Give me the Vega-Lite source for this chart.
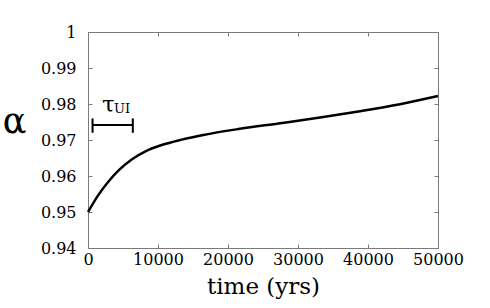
{
  "$schema": "https://vega.github.io/schema/vega-lite/v6.json",
  "autosize": {"type": "none"},
  "width": 350,
  "height": 216,
  "padding": {"left": 88, "top": 32, "right": 52, "bottom": 60},
  "background": "white",
  "config": {
    "view": {"stroke": "#7a7a7a", "strokeWidth": 1},
    "axis": {
      "grid": false,
      "domain": false,
      "tickColor": "#7a7a7a",
      "tickSize": -4,
      "labelFont": "DejaVu Serif",
      "labelFontSize": 16,
      "labelColor": "black",
      "titleFont": "DejaVu Serif",
      "titleColor": "black",
      "titleFontWeight": "normal"
    }
  },
  "datasets": {
    "curve": [
      {"t": 0, "alpha": 0.9500},
      {"t": 1470, "alpha": 0.9547},
      {"t": 2900, "alpha": 0.9584},
      {"t": 4330, "alpha": 0.9615},
      {"t": 6240, "alpha": 0.9646},
      {"t": 8140, "alpha": 0.9668},
      {"t": 10530, "alpha": 0.9686},
      {"t": 13390, "alpha": 0.9701},
      {"t": 16470, "alpha": 0.9714},
      {"t": 21710, "alpha": 0.9731},
      {"t": 27430, "alpha": 0.97465},
      {"t": 33140, "alpha": 0.97625},
      {"t": 38860, "alpha": 0.9780},
      {"t": 44570, "alpha": 0.97995},
      {"t": 50000, "alpha": 0.9822}
    ],
    "bar": [
      {"x1": 650, "x2": 6400, "y1": 0.9742, "y2": 0.9742},
      {"x1": 650, "x2": 650, "y1": 0.9720, "y2": 0.9760},
      {"x1": 6400, "x2": 6400, "y1": 0.9720, "y2": 0.9760}
    ],
    "labels": [
      {"x": 2000, "y": 0.9778, "txt": "τ", "size": 23},
      {"x": 3714, "y": 0.9775, "txt": "UI", "size": 13}
    ]
  },
  "layer": [
    {
      "data": {"name": "curve"},
      "mark": {"type": "line", "color": "black", "strokeWidth": 2.5, "interpolate": "monotone"},
      "encoding": {
        "x": {
          "field": "t", "type": "quantitative",
          "scale": {"domain": [0, 50000], "nice": false, "zero": false},
          "axis": {"orient": "bottom", "values": [0, 10000, 20000, 30000, 40000, 50000], "format": "d", "labelPadding": 7, "title": "time (yrs)", "titleFontSize": 23, "titlePadding": 8, "labelFlush": false}
        },
        "y": {
          "field": "alpha", "type": "quantitative",
          "scale": {"domain": [0.94, 1], "nice": false, "zero": false},
          "axis": {"orient": "left", "values": [0.94, 0.95, 0.96, 0.97, 0.98, 0.99, 1], "format": "~g", "labelPadding": 16, "title": "α", "titleFontSize": 35, "titleAngle": 0, "titleAlign": "center", "titleBaseline": "alphabetic", "titleX": -74, "titleY": 100, "labelFlush": false}
        }
      }
    },
    {
      "data": {"name": "bar"},
      "mark": {"type": "rule", "color": "black", "strokeWidth": 2},
      "encoding": {
        "x": {"field": "x1", "type": "quantitative", "axis": {"orient": "top", "values": [0, 10000, 20000, 30000, 40000, 50000], "labels": false, "title": null}},
        "x2": {"field": "x2"},
        "y": {"field": "y1", "type": "quantitative", "axis": {"orient": "right", "values": [0.94, 0.95, 0.96, 0.97, 0.98, 0.99, 1], "labels": false, "title": null}},
        "y2": {"field": "y2"}
      }
    },
    {
      "data": {"name": "labels"},
      "mark": {"type": "text", "font": "DejaVu Serif", "align": "left", "baseline": "alphabetic", "color": "black"},
      "encoding": {
        "x": {"field": "x", "type": "quantitative", "axis": null},
        "y": {"field": "y", "type": "quantitative", "axis": null},
        "text": {"field": "txt"},
        "size": {"field": "size", "type": "quantitative", "scale": null}
      }
    }
  ],
  "resolve": {"axis": {"x": "independent", "y": "independent"}}
}
